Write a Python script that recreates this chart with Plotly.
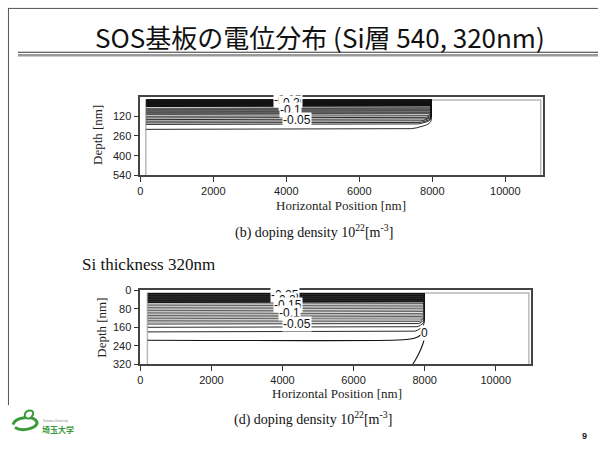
import numpy as np
import plotly.graph_objects as go

W, H = 598, 454

# ---- (b) Si 540 nm, doping 1e22 m^-3 ----
# depth of each potential contour along its flat part [nm]
b_depth_dense = [2, 5, 8, 11, 14, 17, 20, 23, 26, 29, 32, 35, 38, 41, 44, 47, 51]
b_depth_mid = [63, 68, 73, 78, 83, 88, 93, 98, 103, 108]
b_depth_low = [120, 132, 144, 155, 167, 178, 213]
b_labels = ["-0.25", "-0.2", "-0.1", "-0.05"]
b_label_x = [4050, 4080, 4120, 4300]
b_label_d = [6, 26, 76, 146]

# ---- (d) Si 320 nm, doping 1e22 m^-3 ----
d_depth_dense = [14, 17, 20, 23, 26, 29, 32, 35, 38, 41, 44, 47, 50, 53]
d_depth_mid = [60, 67, 74, 81, 88, 95, 102, 109, 116, 123, 130, 137]
d_depth_low = [146, 160, 180]
# the 0 V contour, which folds back down to the bottom boundary
zero_x = [200, 7250, 7600, 7800, 7930, 7990, 7985, 7930, 7840, 7750, 7665]
zero_d = [216, 215, 211, 202, 190, 192, 212, 240, 272, 298, 320]
d_labels = ["-0.25", "-0.2", "-0.15", "-0.1", "-0.05", "0"]
d_label_x = [4060, 4080, 4150, 4200, 4400, 7990]
d_label_d = [21, 42, 65, 97, 146, 185]

x_ticks = [0, 2000, 4000, 6000, 8000, 10000]
b_yticks = [120, 260, 400, 540]
d_yticks = [0, 80, 160, 240, 320]


def px(x):
    return x / W


def py(y):
    return 1 - y / H


def contour_xy(d, top, x_left, x_wall, kx, ky):
    """Flat contour that turns up along the electrode edge with a rounded corner."""
    rx = kx * (d - top) ** 2
    ry = ky * (d - top) ** 2
    cx, cy = x_wall - rx, d - ry
    t = np.linspace(0, np.pi / 2, 9)
    xs = [x_left] + list(cx + rx * np.sin(t)) + [x_wall]
    ys = [d] + list(cy + ry * np.cos(t)) + [top]
    return xs, ys


fig = go.Figure()

# device outlines (light gray)
fig.add_trace(go.Scatter(x=[150, 150, 10970, 10970], y=[540, 5, 5, 540],
                         mode="lines", line=dict(color="#b8b8b8", width=1.5),
                         xaxis="x", yaxis="y", hoverinfo="skip"))
fig.add_trace(go.Scatter(x=[200, 200, 10930, 10930], y=[320, 12, 12, 320],
                         mode="lines", line=dict(color="#b8b8b8", width=1.5),
                         xaxis="x2", yaxis="y2", hoverinfo="skip"))


def add_lines(depths, top, x_left, x_wall, kx, ky, color, width, xa, ya):
    for d in depths:
        xs, ys = contour_xy(d, top, x_left, x_wall, kx, ky)
        fig.add_trace(go.Scatter(x=xs, y=ys, mode="lines",
                                 line=dict(color=color, width=width),
                                 xaxis=xa, yaxis=ya, hoverinfo="skip"))


add_lines(b_depth_dense, 3, 160, 7970, 0.02, 0.0015, "#111111", 1.0, "x", "y")
add_lines(b_depth_mid, 3, 160, 7970, 0.02, 0.0015, "#333333", 0.8, "x", "y")
add_lines(b_depth_low, 3, 160, 7970, 0.02, 0.0015, "#111111", 0.9, "x", "y")

add_lines(d_depth_dense, 13, 210, 7990, 0.0155, 0.0015, "#111111", 1.0, "x2", "y2")
add_lines(d_depth_mid, 13, 210, 7990, 0.0155, 0.0015, "#333333", 0.8, "x2", "y2")
add_lines(d_depth_low, 13, 210, 7990, 0.0155, 0.0015, "#111111", 0.9, "x2", "y2")

fig.add_trace(go.Scatter(x=zero_x, y=zero_d, mode="lines", line_shape="spline",
                         line=dict(color="#111111", width=1.1),
                         xaxis="x2", yaxis="y2", hoverinfo="skip"))

sans = "Liberation Sans, Arial, sans-serif"
serif = "Liberation Serif, Times New Roman, serif"

ann = []
for t, x, d in zip(b_labels, b_label_x, b_label_d):
    ann.append(dict(x=x, y=d, xref="x", yref="y", text=t, showarrow=False,
                    xanchor="center", yanchor="middle", bgcolor="white", borderpad=0,
                    font=dict(family=sans, size=12, color="#111")))
for t, x, d in zip(d_labels, d_label_x, d_label_d):
    ann.append(dict(x=x, y=d, xref="x2", yref="y2", text=t, showarrow=False,
                    xanchor="center", yanchor="middle", bgcolor="white", borderpad=0,
                    font=dict(family=sans, size=12, color="#111")))


def note(x, y, text, size, family, color="#111", angle=0, xanchor="center"):
    return dict(x=px(x), y=py(y), xref="paper", yref="paper", text=text,
                showarrow=False, xanchor=xanchor, yanchor="middle", textangle=angle,
                font=dict(family=family, size=size, color=color))


ann += [
    note(340, 205, "Horizontal Position [nm]", 13, serif, "#222"),
    note(95, 133, "Depth [nm]", 13, serif, "#222", angle=-90),
    note(336, 398, "Horizontal Position [nm]", 13, serif, "#222"),
    note(99, 331, "Depth [nm]", 13, serif, "#222", angle=-90),
    note(313, 232, "(b) doping density 10<sup>22</sup>[m<sup>-3</sup>]", 14, serif),
    note(312, 424, "(d) doping density 10<sup>22</sup>[m<sup>-3</sup>]", 14, serif),
    note(77, 266, "Si thickness 320nm", 17, serif, xanchor="left"),
    note(319, 31, "SOS基板の電位分布 (Si層 540, 320nm)", 26,
         "Noto Sans CJK JP, Liberation Sans"),
    note(584, 442, "<b>9</b>", 9, sans, "#222"),
    note(37, 435, "<b>埼玉大学</b>", 8, "Noto Sans CJK JP", "#3a9a3a", xanchor="left"),
    note(38, 426, "Saitama University", 3, sans, "#888", xanchor="left"),
]

shapes = [
    # slide frame
    dict(type="line", xref="paper", yref="paper", x0=px(5), x1=1, y0=py(2.5), y1=py(2.5),
         line=dict(color="#555", width=1)),
    dict(type="line", xref="paper", yref="paper", x0=px(5.5), x1=px(5.5), y0=py(2), y1=py(410),
         line=dict(color="#555", width=1)),
    # double rule under the title
    dict(type="line", xref="paper", yref="paper", x0=px(15), x1=1, y0=py(47.5), y1=py(47.5),
         line=dict(color="#333", width=1)),
    dict(type="line", xref="paper", yref="paper", x0=px(15), x1=1, y0=py(50.5), y1=py(50.5),
         line=dict(color="#999", width=2.5)),
    # logo swirl
    dict(type="path", xref="paper", yref="paper",
         path=f"M {px(10)},{py(430)} C {px(12)},{py(422)} {px(30)},{py(420)} {px(34)},{py(427)} "
              f"C {px(36)},{py(433)} {px(20)},{py(438)} {px(12)},{py(433)}",
         line=dict(color="#3a9a3a", width=3)),
    dict(type="path", xref="paper", yref="paper",
         path=f"M {px(22)},{py(419)} C {px(24)},{py(414)} {px(32)},{py(414)} {px(30)},{py(420)} "
              f"C {px(28)},{py(425)} {px(21)},{py(425)} {px(22)},{py(419)} Z",
         line=dict(color="#3a9a3a", width=2), fillcolor="white"),
]

axis_common = dict(showgrid=False, zeroline=False, showline=True, mirror=True,
                   linecolor="#444", linewidth=1.5, ticks="outside", ticklen=5,
                   tickwidth=1, tickcolor="#333",
                   tickfont=dict(family=sans, size=11, color="#222"))

fig.update_layout(
    width=W, height=H, margin=dict(l=0, r=0, t=0, b=0),
    paper_bgcolor="white", plot_bgcolor="white", showlegend=False,
    xaxis=dict(domain=[px(138), px(543)], range=[0, 11040], anchor="y",
               tickvals=x_ticks, ticktext=[str(v) for v in x_ticks], **axis_common),
    yaxis=dict(domain=[py(174), py(93)], range=[540, -20], anchor="x",
               tickvals=b_yticks, ticktext=[str(v) for v in b_yticks], **axis_common),
    xaxis2=dict(domain=[px(138), px(531)], range=[0, 11000], anchor="y2",
                tickvals=x_ticks, ticktext=[str(v) for v in x_ticks], **axis_common),
    yaxis2=dict(domain=[py(368), py(292)], range=[320, 0], anchor="x2",
                tickvals=d_yticks, ticktext=[str(v) for v in d_yticks], **axis_common),
    annotations=ann, shapes=shapes,
)

fig.write_html("out.html")
